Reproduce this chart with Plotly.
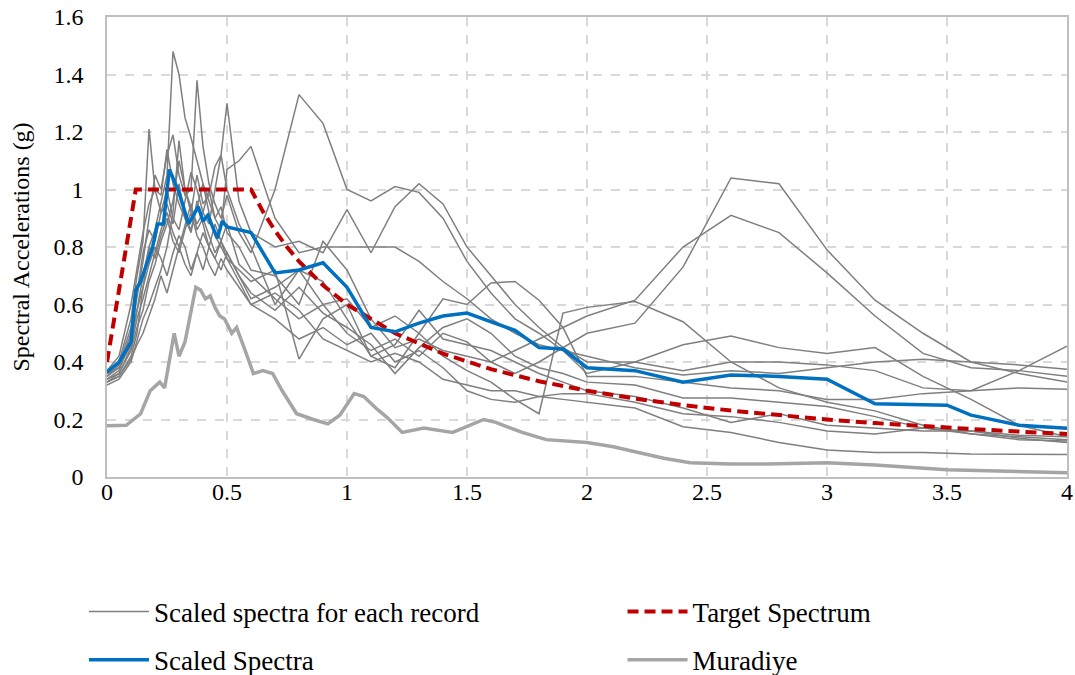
import plotly.graph_objects as go

# ---------------- data ----------------
T_rec = [0, 0.05, 0.1, 0.125, 0.15, 0.175, 0.2, 0.225, 0.25, 0.275, 0.3, 0.325, 0.35, 0.375,
         0.4, 0.425, 0.45, 0.475, 0.5, 0.55, 0.6, 0.7, 0.8, 0.9, 1.0, 1.1, 1.2, 1.3, 1.4, 1.5,
         1.6, 1.7, 1.8, 1.9, 2.0, 2.2, 2.4, 2.6, 2.8, 3.0, 3.2, 3.4, 3.6, 3.8, 4.0]

rec_01 = [0.34, 0.36, 0.45, 0.55, 0.62, 0.70, 0.78, 0.86, 0.92, 0.85, 0.80, 0.88, 0.95, 0.86, 0.90, 0.84, 0.78, 0.82, 0.88, 0.74, 0.70,
          0.62, 0.55, 0.60, 0.50, 0.44, 0.48, 0.42, 0.50, 0.47, 0.40, 0.36, 0.40, 0.45, 0.50,
          0.535, 0.73, 1.04, 1.02, 0.79, 0.615, 0.50, 0.40, 0.36, 0.33]
rec_02 = [0.33, 0.35, 0.42, 0.50, 0.66, 0.80, 0.86, 0.95, 1.05, 1.48, 1.40, 1.25, 1.18, 1.10, 1.02, 0.96, 0.90, 0.94, 0.85, 0.80, 0.72,
          0.70, 0.60, 0.82, 0.72, 0.55, 0.45, 0.48, 0.44, 0.42, 0.40, 0.44, 0.48, 0.52, 0.56,
          0.615, 0.80, 0.91, 0.85, 0.71, 0.56, 0.43, 0.38, 0.37, 0.35]
rec_03 = [0.36, 0.40, 0.55, 0.70, 0.82, 1.21, 1.00, 0.92, 0.95, 0.88, 1.02, 0.90, 0.85, 0.96, 0.88, 0.80, 0.76, 0.72, 0.78, 0.70, 0.62,
          0.66, 0.72, 0.60, 0.62, 0.52, 0.56, 0.50, 0.42, 0.37, 0.33, 0.27, 0.22, 0.57, 0.59,
          0.61, 0.54, 0.40, 0.31, 0.26, 0.23, 0.18, 0.15, 0.14, 0.13]
rec_04 = [0.35, 0.38, 0.50, 0.62, 0.75, 0.90, 1.05, 1.00, 1.12, 1.19, 1.05, 0.98, 1.00, 1.38, 1.15, 1.02, 0.95, 0.90, 0.98, 0.85, 0.78,
          1.00, 1.33, 1.23, 1.00, 0.96, 1.01, 0.99, 0.90, 0.75, 0.64, 0.55, 0.50, 0.44, 0.36,
          0.40, 0.46, 0.49, 0.45, 0.43, 0.45, 0.35, 0.27, 0.18, 0.14]
rec_05 = [0.33, 0.36, 0.44, 0.52, 0.58, 0.68, 0.74, 0.82, 0.88, 0.96, 1.10, 1.00, 0.92, 1.05, 0.95, 0.98, 1.08, 1.12, 1.30, 0.96, 0.85,
          0.80, 0.82, 0.78, 0.93, 0.78, 0.94, 1.02, 0.95, 0.80, 0.70, 0.60, 0.52, 0.45, 0.40,
          0.40, 0.37, 0.40, 0.40, 0.39, 0.37, 0.31, 0.30, 0.37, 0.455]
rec_06 = [0.32, 0.34, 0.40, 0.48, 0.55, 0.60, 0.66, 0.72, 0.80, 0.92, 1.17, 1.00, 0.94, 0.88, 0.92, 1.00, 0.90, 0.86, 1.07, 1.10, 1.15,
          0.90, 0.78, 0.80, 0.80, 0.80, 0.80, 0.75, 0.68, 0.62, 0.55, 0.50, 0.46, 0.44, 0.42,
          0.38, 0.355, 0.37, 0.36, 0.38, 0.40, 0.41, 0.40, 0.39, 0.375]
rec_07 = [0.37, 0.42, 0.60, 0.72, 0.85, 0.95, 1.00, 0.98, 1.14, 1.02, 0.95, 0.90, 0.86, 0.94, 1.02, 0.92, 0.84, 0.80, 0.76, 0.72, 0.68,
          0.72, 0.41, 0.55, 0.60, 0.42, 0.38, 0.50, 0.62, 0.60, 0.675, 0.68, 0.615, 0.52, 0.35,
          0.35, 0.33, 0.31, 0.30, 0.27, 0.27, 0.29, 0.30, 0.31, 0.305]
rec_08 = [0.34, 0.37, 0.48, 0.58, 0.66, 0.74, 0.80, 0.76, 0.70, 0.78, 0.84, 0.80, 0.72, 0.78, 0.85, 0.80, 0.76, 0.82, 0.78, 0.70, 0.64,
          0.58, 0.66, 0.57, 0.52, 0.46, 0.36, 0.45, 0.52, 0.55, 0.50, 0.42, 0.38, 0.36, 0.33,
          0.32, 0.275, 0.275, 0.26, 0.245, 0.21, 0.17, 0.16, 0.135, 0.12]
rec_09 = [0.35, 0.39, 0.52, 0.64, 0.78, 0.86, 0.82, 0.92, 1.00, 0.90, 0.86, 0.96, 1.06, 1.00, 0.92, 0.88, 1.00, 1.12, 1.00, 0.88, 0.80,
          0.60, 0.72, 0.68, 0.55, 0.42, 0.46, 0.58, 0.48, 0.46, 0.44, 0.40, 0.36, 0.33, 0.30,
          0.28, 0.24, 0.19, 0.22, 0.18, 0.17, 0.16, 0.16, 0.145, 0.14]
rec_10 = [0.33, 0.35, 0.41, 0.46, 0.50, 0.56, 0.62, 0.70, 0.64, 0.72, 0.80, 0.74, 0.70, 0.78, 0.72, 0.80, 0.88, 0.82, 0.76, 0.68, 0.60,
          0.55, 0.48, 0.52, 0.46, 0.50, 0.40, 0.44, 0.38, 0.30, 0.27, 0.26, 0.28, 0.29, 0.29,
          0.26, 0.22, 0.21, 0.19, 0.16, 0.15, 0.17, 0.15, 0.13, 0.125]
rec_11 = [0.36, 0.38, 0.46, 0.58, 0.70, 0.80, 0.76, 0.84, 0.90, 0.82, 0.78, 0.86, 0.92, 0.84, 0.80, 0.74, 0.70, 0.76, 0.72, 0.66, 0.60,
          0.64, 0.58, 0.48, 0.44, 0.40, 0.43, 0.40, 0.34, 0.32, 0.30, 0.30, 0.28, 0.27, 0.26,
          0.24, 0.175, 0.155, 0.12, 0.094, 0.085, 0.085, 0.08, 0.08, 0.078]

records = [rec_01, rec_02, rec_03, rec_04, rec_05, rec_06, rec_07, rec_08, rec_09, rec_10, rec_11]

T_target = [0, 0.12, 0.6, 0.65, 0.7, 0.75, 0.8, 0.9, 1.0, 1.2, 1.4, 1.6, 1.8, 2.0, 2.2, 2.4, 2.6,
            2.8, 3.0, 3.2, 3.4, 3.6, 3.8, 4.0]
Sa_target = [0.40, 1.0, 1.0, 0.923, 0.857, 0.80, 0.75, 0.667, 0.60, 0.50, 0.429, 0.375, 0.333, 0.30,
             0.273, 0.25, 0.231, 0.214, 0.20, 0.1875, 0.176, 0.167, 0.158, 0.15]

T_scaled = [0, 0.05, 0.1, 0.12, 0.14, 0.19, 0.21, 0.235, 0.26, 0.30, 0.34, 0.38, 0.40, 0.42, 0.46,
            0.48, 0.50, 0.60, 0.70, 0.80, 0.90, 1.0, 1.1, 1.2, 1.3, 1.4, 1.5, 1.6, 1.7, 1.8, 1.9,
            2.0, 2.2, 2.4, 2.6, 2.8, 3.0, 3.2, 3.4, 3.5, 3.6, 3.8, 4.0]
Sa_scaled = [0.365, 0.40, 0.47, 0.65, 0.68, 0.80, 0.88, 0.88, 1.07, 0.99, 0.88, 0.94, 0.89, 0.91, 0.83,
             0.89, 0.87, 0.85, 0.71, 0.72, 0.745, 0.66, 0.52, 0.505, 0.535, 0.56, 0.57, 0.54, 0.51, 0.45, 0.445,
             0.38, 0.37, 0.33, 0.355, 0.35, 0.34, 0.255, 0.25, 0.25, 0.215, 0.18, 0.17]

T_muradiye = [0, 0.08, 0.14, 0.18, 0.22, 0.24, 0.28, 0.30, 0.325, 0.37, 0.39, 0.41, 0.43, 0.45, 0.47,
              0.49, 0.52, 0.54, 0.58, 0.61, 0.65, 0.69, 0.73, 0.79, 0.86, 0.92, 0.97, 1.03, 1.07, 1.12,
              1.17, 1.23, 1.32, 1.44, 1.57, 1.62, 1.73, 1.83, 2.0, 2.11, 2.2, 2.32, 2.43, 2.6, 2.75,
              3.0, 3.2, 3.5, 4.0]
Sa_muradiye = [0.178, 0.18, 0.22, 0.30, 0.33, 0.31, 0.50, 0.42, 0.47, 0.66, 0.65, 0.62, 0.63, 0.59, 0.56,
               0.55, 0.50, 0.52, 0.43, 0.36, 0.37, 0.36, 0.30, 0.22, 0.20, 0.185, 0.215, 0.29, 0.28, 0.24,
               0.205, 0.155, 0.17, 0.155, 0.20, 0.19, 0.155, 0.13, 0.12, 0.105, 0.088, 0.065, 0.05, 0.045, 0.045,
               0.05, 0.042, 0.025, 0.015]

x_ticks = [0, 0.5, 1, 1.5, 2, 2.5, 3, 3.5, 4]
x_tick_labels = ["0", "0.5", "1", "1.5", "2", "2.5", "3", "3.5", "4"]
y_ticks = [0, 0.2, 0.4, 0.6, 0.8, 1.0, 1.2, 1.4, 1.6]
y_tick_labels = ["0", "0.2", "0.4", "0.6", "0.8", "1", "1.2", "1.4", "1.6"]

# ---------------- figure ----------------
FONT = "Liberation Serif"
fig = go.Figure()

for i, rec in enumerate(records):
    fig.add_trace(go.Scatter(
        x=T_rec, y=rec, mode="lines",
        line=dict(color="#7F7F7F", width=1.5),
        name="Scaled spectra for each record",
        legendgroup="rec", showlegend=(i == 0), legend="legend",
        hoverinfo="skip"))

fig.add_trace(go.Scatter(
    x=T_muradiye, y=Sa_muradiye, mode="lines",
    line=dict(color="#A5A5A5", width=3.5),
    name="Muradiye", legend="legend4"))

fig.add_trace(go.Scatter(
    x=T_target, y=Sa_target, mode="lines",
    line=dict(color="#C00000", width=4, dash="11px,6px"),
    name="Target Spectrum", legend="legend2"))

fig.add_trace(go.Scatter(
    x=T_scaled, y=Sa_scaled, mode="lines",
    line=dict(color="#0070C0", width=3.5),
    name="Scaled Spectra", legend="legend3"))

leg_common = dict(font=dict(family=FONT, size=27, color="#000000"),
                  bgcolor="rgba(0,0,0,0)", xanchor="left", yanchor="middle",
                  itemwidth=60)
fig.update_layout(
    width=1075, height=675,
    paper_bgcolor="white", plot_bgcolor="white",
    margin=dict(l=107, r=8, t=17, b=198, autoexpand=False),
    font=dict(family=FONT, size=24, color="#000000"),
    legend=dict(x=-0.024, y=-0.2935, **leg_common),
    legend2=dict(x=0.537, y=-0.2935, **leg_common),
    legend3=dict(x=-0.024, y=-0.398, **leg_common),
    legend4=dict(x=0.537, y=-0.398, **leg_common),
    xaxis=dict(range=[0, 4], tickvals=x_ticks, ticktext=x_tick_labels,
               showgrid=True, gridcolor="#D9D9D9", griddash="dash", gridwidth=1.5,
               showline=True, linecolor="#BFBFBF", linewidth=1.5, mirror=True,
               zeroline=False, ticks="", automargin=False, ticklabeloverflow="allow",
               ticklabelstandoff=-8,
               tickfont=dict(family=FONT, size=24)),
    yaxis=dict(range=[0, 1.6], tickvals=y_ticks, ticktext=y_tick_labels,
               showgrid=True, gridcolor="#D9D9D9", griddash="dash", gridwidth=1.5,
               showline=True, linecolor="#BFBFBF", linewidth=1.5, mirror=True,
               zeroline=False, ticks="", automargin=False, ticklabelstandoff=17,
               tickfont=dict(family=FONT, size=24),
               title=dict(text="Spectral Accelerations (g)", font=dict(family=FONT, size=24),
                          standoff=17)),
)

fig.write_html("out.html", config={"displayModeBar": False})

# remove the browser's default body margin so the figure sits at the page origin
with open("out.html", "r", encoding="utf-8") as f:
    html = f.read()
html = html.replace("<body>", '<body style="margin:0;padding:0;overflow:hidden">', 1)
with open("out.html", "w", encoding="utf-8") as f:
    f.write(html)
